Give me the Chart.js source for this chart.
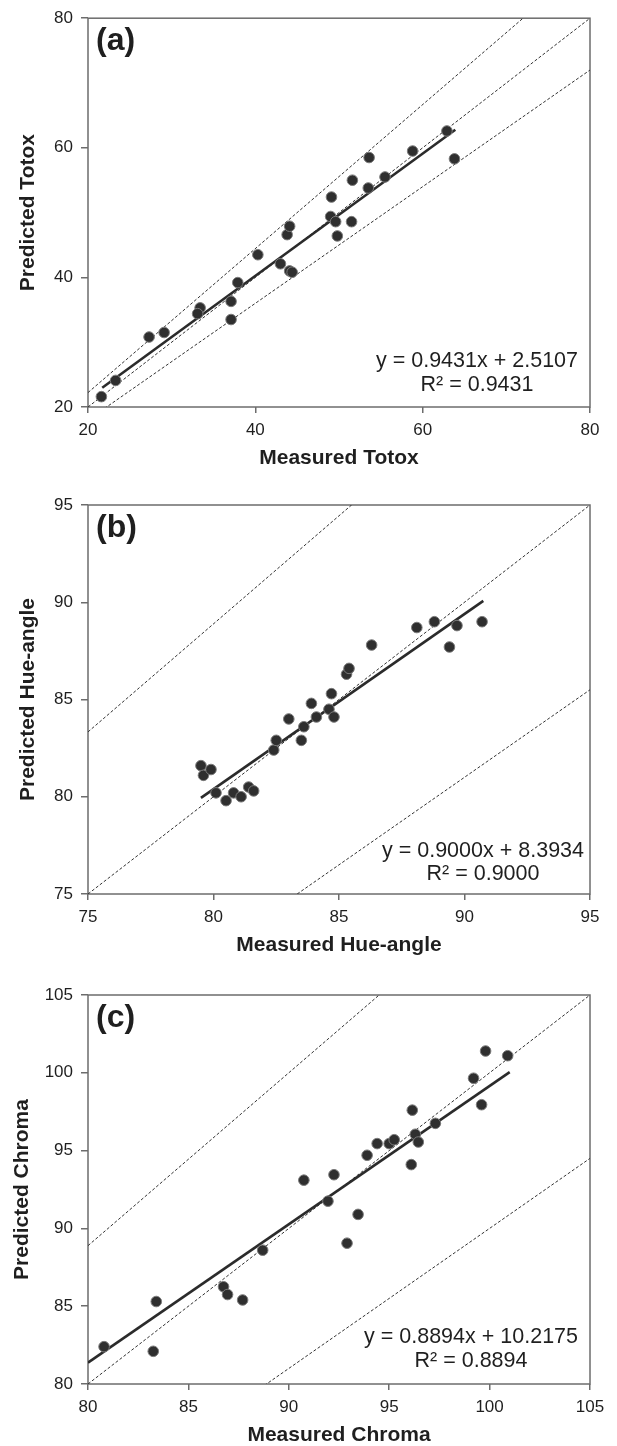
<!DOCTYPE html>
<html>
<head>
<meta charset="utf-8">
<script src="https://cdn.jsdelivr.net/npm/chart.js@4.4.1/dist/chart.umd.min.js"></script>
<style>
  html, body { margin: 0; padding: 0; background: #ffffff; }
  #wrap { position: relative; width: 617px; height: 1446px; overflow: hidden; }
  canvas { position: absolute; left: 0; }
</style>
</head>
<body>
<div id="wrap">
  <canvas id="chartA" width="617" height="480" style="top:0px"></canvas>
  <canvas id="chartB" width="617" height="487" style="top:480px"></canvas>
  <canvas id="chartC" width="617" height="479" style="top:967px"></canvas>
</div>
<script>
// ---------------- DATA ----------------
// Panel (a) Totox
const totoxMeasured  = [21.6, 23.3, 27.3, 29.1, 33.4, 33.1, 37.1, 37.1, 37.9, 40.3, 43.0, 44.1, 44.4, 43.8, 44.1, 49.1, 49.0, 49.6, 49.8, 51.5, 51.6, 53.5, 53.6, 55.5, 58.8, 62.9, 63.8];
const totoxPredicted = [21.6, 24.1, 30.8, 31.5, 35.3, 34.4, 36.3, 33.5, 39.2, 43.5, 42.1, 41.0, 40.8, 46.6, 47.9, 52.4, 49.4, 48.6, 46.4, 48.6, 55.0, 53.8, 58.5, 55.5, 59.5, 62.6, 58.3];

// Panel (b) Hue-angle
const hueMeasured  = [79.5, 79.6, 79.9, 80.1, 80.5, 80.8, 81.1, 81.4, 81.6, 82.4, 82.5, 83.0, 83.5, 83.6, 83.9, 84.1, 84.6, 84.7, 84.8, 85.3, 85.4, 86.3, 88.1, 88.8, 89.4, 89.7, 90.7];
const huePredicted = [81.6, 81.1, 81.4, 80.2, 79.8, 80.2, 80.0, 80.5, 80.3, 82.4, 82.9, 84.0, 82.9, 83.6, 84.8, 84.1, 84.5, 85.3, 84.1, 86.3, 86.6, 87.8, 88.7, 89.0, 87.7, 88.8, 89.0];

// Panel (c) Chroma
const chromaMeasured  = [80.8, 83.25, 83.4, 86.75, 86.95, 87.7, 88.7, 90.75, 91.95, 92.25, 92.9, 93.45, 93.9, 94.4, 95.0, 95.25, 96.1, 96.15, 96.3, 96.45, 97.3, 99.2, 99.6, 99.8, 100.9];
const chromaPredicted = [82.4, 82.1, 85.3, 86.25, 85.75, 85.4, 88.6, 93.1, 91.75, 93.45, 89.05, 90.9, 94.7, 95.45, 95.45, 95.7, 94.1, 97.6, 96.05, 95.55, 96.75, 99.65, 97.95, 101.4, 101.1];

// Fitted regression lines (as printed on the chart)
const fitSlopes     = [0.9431, 0.9000, 0.8894];
const fitIntercepts = [2.5107, 8.3934, 10.2175];
const fitXStart     = [21.7, 79.5, 80.0];
const fitXEnd       = [63.9, 90.75, 101.0];
const equationTexts = ["y = 0.9431x + 2.5107", "y = 0.9000x + 8.3934", "y = 0.8894x + 10.2175"];
const r2Texts       = ["R² = 0.9431", "R² = 0.9000", "R² = 0.8894"];

// Reference lines: 1:1 and ±10% bounds (slopes through origin)
const refSlopes = [1, 1 / 0.9, 0.9];

// Axes
const panelLabels = ["(a)", "(b)", "(c)"];
const xTitles = ["Measured Totox", "Measured Hue-angle", "Measured Chroma"];
const yTitles = ["Predicted Totox", "Predicted Hue-angle", "Predicted Chroma"];
const axisMin  = [20, 75, 80];
const axisMax  = [80, 95, 105];
const axisStep = [20, 5, 5];

// ---------------- DRAWING ----------------
const FONT = '"Liberation Sans", Arial, Helvetica, sans-serif';
const AXIS_COLOR = '#6c6c6c';
const TEXT_COLOR = '#1f1f1f';

const annotPlugin = {
  id: 'annot',
  beforeDatasetsDraw(chart) {
    const a = chart.chartArea;
    const ctx = chart.ctx;
    ctx.save();
    ctx.strokeStyle = AXIS_COLOR;
    ctx.lineWidth = 1.5;
    ctx.strokeRect(a.left, a.top, a.right - a.left, a.bottom - a.top);
    ctx.restore();
  },
  afterDraw(chart, args, opts) {
    const a = chart.chartArea;
    const ctx = chart.ctx;
    ctx.save();
    ctx.fillStyle = TEXT_COLOR;
    // panel label
    ctx.font = 'bold 32px ' + FONT;
    ctx.textAlign = 'left';
    ctx.textBaseline = 'alphabetic';
    ctx.fillText(opts.label, a.left + 8, a.top + 32);
    // equation
    ctx.font = '21.5px ' + FONT;
    ctx.textAlign = 'right';
    ctx.fillText(opts.eq, opts.eqRight, a.bottom - opts.eqB1);
    const w1 = ctx.measureText(opts.eq).width;
    ctx.textAlign = 'center';
    ctx.fillText(opts.r2, opts.eqRight - w1 / 2, a.bottom - opts.eqB2);
    // x title
    ctx.font = 'bold 21px ' + FONT;
    ctx.textAlign = 'center';
    ctx.fillText(opts.xTitle, (a.left + a.right) / 2, a.bottom + 57);
    // y title
    ctx.translate(opts.yTitleX, (a.top + a.bottom) / 2);
    ctx.rotate(-Math.PI / 2);
    ctx.textBaseline = 'middle';
    ctx.fillText(opts.yTitle, 0, 0);
    ctx.restore();
  }
};

function toPoints(xs, ys) {
  return xs.map((x, i) => ({ x: x, y: ys[i] }));
}

function makeChart(canvasId, i, measured, predicted, layout) {
  const min = axisMin[i], max = axisMax[i];
  const datasets = [
    {
      type: 'scatter',
      data: toPoints(measured, predicted),
      pointRadius: 5.3,
      pointBackgroundColor: '#2f2f2f',
      pointBorderColor: '#7a7a7a',
      pointBorderWidth: 1,
      order: 0
    },
    {
      type: 'line',
      data: [
        { x: fitXStart[i], y: fitSlopes[i] * fitXStart[i] + fitIntercepts[i] },
        { x: fitXEnd[i],   y: fitSlopes[i] * fitXEnd[i]   + fitIntercepts[i] }
      ],
      borderColor: '#2b2b2b',
      borderWidth: 2.6,
      pointRadius: 0,
      fill: false,
      order: 1
    }
  ];
  refSlopes.forEach(s => {
    datasets.push({
      type: 'line',
      data: [{ x: min, y: s * min }, { x: max, y: s * max }],
      borderColor: '#333333',
      borderWidth: 1,
      borderDash: [3, 2],
      pointRadius: 0,
      fill: false,
      order: 2
    });
  });

  const tickFont = { family: FONT, size: 17 };
  new Chart(document.getElementById(canvasId), {
    type: 'scatter',
    data: { datasets: datasets },
    options: {
      responsive: false,
      animation: false,
      events: [],
      layout: { padding: { top: layout.padTop, right: 27, left: 0, bottom: 0 } },
      plugins: {
        legend: { display: false },
        tooltip: { enabled: false },
        annot: {
          label: panelLabels[i],
          eq: equationTexts[i],
          r2: r2Texts[i],
          eqRight: layout.eqRight,
          eqB1: layout.eqB1,
          eqB2: layout.eqB2,
          xTitle: xTitles[i],
          yTitle: yTitles[i],
          yTitleX: layout.yTitleX
        }
      },
      scales: {
        x: {
          type: 'linear',
          min: min, max: max,
          ticks: { stepSize: axisStep[i], font: tickFont, color: TEXT_COLOR, padding: 7, maxRotation: 0 },
          grid: { display: true, drawOnChartArea: false, drawTicks: true, tickLength: 6, color: AXIS_COLOR, lineWidth: 1.5 },
          border: { display: false },
          afterFit: (s) => { s.height = layout.xHeight; }
        },
        y: {
          type: 'linear',
          min: min, max: max,
          ticks: { stepSize: axisStep[i], font: tickFont, color: TEXT_COLOR, padding: 8 },
          grid: { display: true, drawOnChartArea: false, drawTicks: true, tickLength: 7, color: AXIS_COLOR, lineWidth: 1.5 },
          border: { display: false },
          afterFit: (s) => { s.width = 88; }
        }
      }
    },
    plugins: [annotPlugin]
  });
}

makeChart('chartA', 0, totoxMeasured, totoxPredicted,
  { padTop: 17, xHeight: 73, eqRight: 578, eqB1: 40, eqB2: 16, yTitleX: 28 });
makeChart('chartB', 1, hueMeasured, huePredicted,
  { padTop: 25, xHeight: 73, eqRight: 584, eqB1: 37, eqB2: 14, yTitleX: 28 });
makeChart('chartC', 2, chromaMeasured, chromaPredicted,
  { padTop: 28, xHeight: 62, eqRight: 578, eqB1: 41, eqB2: 17, yTitleX: 22 });
</script>
</body>
</html>
